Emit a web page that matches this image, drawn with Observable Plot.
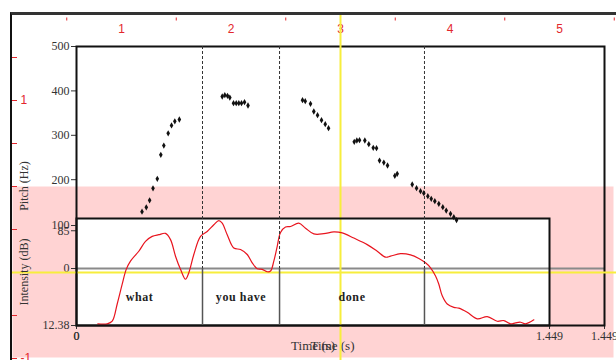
<!DOCTYPE html>
<html><head><meta charset="utf-8">
<script src="https://cdn.jsdelivr.net/npm/d3@7"></script>
<script src="https://cdn.jsdelivr.net/npm/@observablehq/plot@0.6"></script>
<style>
html,body{margin:0;padding:0;background:#fff;}
#chart{position:relative;width:616px;height:360px;overflow:hidden;background:#fff;}
#chart svg{position:absolute;left:0;top:0;background:transparent !important;overflow:visible;}
#border{position:absolute;left:10px;top:12px;width:606px;height:348px;border-top:3px solid #333;border-left:2px solid #111;box-sizing:border-box;}
</style></head><body><div id="chart"></div>
<script>
// ---------- data ----------
const pitchT = [0.2007,0.2138,0.2240,0.2344,0.2475,0.2583,0.2675,0.2809,0.2911,0.3012,0.3150,
  0.4464,0.4544,0.4626,0.4697,0.4810,0.4893,0.4972,0.5055,0.5147,0.5254,
  0.6924,0.7007,0.7169,0.7270,0.7384,0.7506,0.7620,0.7721,0.8508,0.8588,0.8670,0.8833,0.8955,0.9090,0.9191,
  0.9283,0.9415,0.9528,0.9752,0.9825,1.0285,1.0417,1.0539,1.0640,1.0763,1.0867,1.0977,1.1100,1.1222,1.1327,1.1458,1.1559,1.1642];
const pitchF = [127.9,137.8,153.6,180.6,202.0,256.1,277.0,304.5,322.1,331.5,335.6,
  387.4,390.3,389.0,385.1,372.3,372.3,372.3,372.3,374.5,367.1,
  379.1,376.8,370.9,353.6,345.3,334.0,325.0,316.0,285.4,288.3,289.0,288.3,280.0,271.8,270.9,
  243.2,238.7,232.0,208.8,213.3,189.2,180.9,174.1,169.6,162.8,157.0,151.6,145.7,138.1,130.6,123.2,115.5,109.2];
const intT = [0.0653,0.0941,0.1094,0.1247,0.1400,0.1523,0.1654,0.1909,0.2114,0.2319,0.2521,0.2727,0.2880,0.3033,0.3186,0.3339,0.3441,0.3594,0.3799,0.4004,0.4207,0.4360,0.4464,0.4617,0.4819,0.5025,0.5230,0.5383,0.5536,0.5689,0.5843,0.5944,0.6045,0.6149,0.6250,0.6403,0.6556,0.6811,0.7016,0.7270,0.7577,0.7883,0.8140,0.8496,0.8906,0.9213,0.9467,0.9620,0.9926,1.0233,1.0487,1.0692,1.0846,1.0999,1.1100,1.1204,1.1357,1.1560,1.1713,1.1970,1.2276,1.2583,1.2889,1.3091,1.3297,1.3450,1.3603,1.3756,1.4010];
const intDb = [13.85,13.85,16.11,31.21,48.56,61.57,68.77,77.44,86.12,90.46,91.93,93.06,87.60,73.11,61.57,52.89,58.62,74.58,90.46,94.80,100.61,104.34,102.00,91.93,80.31,78.92,74.58,67.30,62.09,61.57,59.49,60.09,68.77,81.78,93.93,98.70,99.13,102.00,97.66,92.63,92.80,94.36,93.49,88.98,83.26,77.44,72.24,73.11,75.28,74.23,71.11,67.30,62.96,55.76,48.56,38.41,31.21,28.26,27.56,23.92,18.19,20.19,16.11,16.72,13.85,14.72,15.24,13.85,17.32];
const boundaries = [0.386, 0.622, 1.066];
const intervalStart = [0, 0.386, 0.622];
const intervalEnd = [0.386, 0.622, 1.066];
const intervalLabels = ["what", "you have", "done"];
const timeDomain = [0, 1.449];
const timeTicks = [0, 1.449];
const pitchDomain = [0, 500];
const pitchTicks = [0, 85, 200, 300, 400, 500];
const intensityDomain = [12.38, 100];
const intensityTicks = [12.38, 100];
const redTopTicks = [0.5, 1.5, 2.5, 3.5, 4.5, 5.5];
const redTopLabels = [1, 2, 3, 4, 5];
const redLeftTicks = [4/3, 1, 2/3, 1/3, 0, -1/3, -2/3, -1];
const redLeftLabels = [1, -1];
const cursorTime = 3;
const cursorValue = -1/3;

// ---------- layout ----------
const RED = "#e3262c";
const INK = "#333";
const chart = document.getElementById("chart");
const baseStyle = {background: "transparent", fontFamily: "'Liberation Serif', serif", fontSize: "12px", color: INK, overflow: "visible"};
function layer(opts) {
  const svg = Plot.plot(Object.assign({width: 616, height: 360, style: baseStyle}, opts));
  chart.appendChild(svg);
  return svg;
}
const pitchData = pitchT.map((t, i) => ({t, f: pitchF[i]}));
const intData = intT.map((t, i) => ({t, db: intDb[i]}));
const redX = {domain: [0, 5], range: [11.5, 559]};
const redY = {domain: [1, -1], range: [100, 358]};
const pitchRange = [268, 46];

// pink selection band
layer({marginTop: 186, marginLeft: 12, marginRight: 3, marginBottom: 3,
  marks: [Plot.frame({fill: "#ffd3d3", stroke: "none"})]});

// red editor axes
layer({marginTop: 19.5, marginLeft: 17, marginRight: 0, marginBottom: 0,
  style: Object.assign({}, baseStyle, {color: RED, fontFamily: "'Liberation Sans', sans-serif"}),
  x: Object.assign({}, redX, {axis: "top", ticks: redTopTicks, tickSize: 3, tickFormat: () => "", label: null}),
  y: Object.assign({}, redY, {axis: "left", ticks: redLeftTicks, tickSize: 5, tickFormat: () => "", label: null}),
  marks: [
    Plot.text(redTopLabels, {x: d => d, text: d => String(d), frameAnchor: "top", dy: 4, fill: RED, fontSize: 12}),
    Plot.text(redLeftLabels, {y: d => d, text: d => String(d), frameAnchor: "left", dx: 3, textAnchor: "start", fill: RED, fontSize: 12})
  ]});

// intensity box background
layer({marginTop: 218, marginLeft: 76, marginRight: 67, marginBottom: 35,
  marks: [Plot.frame({fill: "white", stroke: "none"})]});

// outer pitch frame
layer({marginTop: 46, marginLeft: 76, marginRight: 12, marginBottom: 35,
  x: {domain: timeDomain, ticks: timeTicks, tickSize: 4, tickPadding: 2, tickFormat: d => String(d), label: null},
  y: {domain: pitchDomain, range: pitchRange, ticks: pitchTicks, tickSize: 5, tickPadding: 2, tickFormat: d => String(d), label: null},
  marks: [
    Plot.ruleY([0], {x1: timeDomain[0], x2: timeDomain[1], stroke: "#8a8a8a", strokeWidth: 2}),
    Plot.frame({stroke: "#111", strokeWidth: 2}),
    Plot.text(["Time (s)"], {text: d => d, frameAnchor: "bottom", dy: 24, dx: -8, fontSize: 13}),
    Plot.text(["Pitch (Hz)"], {text: d => d, frameAnchor: "left", dx: -52, rotate: -90, textAnchor: "middle", fontSize: 12})
  ]});

// yellow cursor
layer({marginTop: 15, marginLeft: 11, marginRight: 0, marginBottom: 0,
  x: Object.assign({}, redX, {axis: null}),
  y: Object.assign({}, redY, {axis: null}),
  marks: [
    Plot.ruleX([cursorTime], {stroke: "#f7ee3c", strokeWidth: 2}),
    Plot.ruleY([cursorValue], {stroke: "#f7ee3c", strokeWidth: 2})
  ]});

// intensity curve
layer({marginTop: 218, marginLeft: 76, marginRight: 67, marginBottom: 35,
  x: {domain: timeDomain, ticks: timeTicks, tickSize: 4, tickPadding: 2, tickFormat: d => String(d), label: null},
  y: {domain: intensityDomain, range: [325, 225], ticks: intensityTicks, tickSize: 5, tickPadding: 2, tickFormat: d => String(d), label: null},
  marks: [
    Plot.line(intData, {x: "t", y: "db", stroke: "#e8141e", strokeWidth: 1.2, curve: "catmull-rom"}),
    Plot.frame({stroke: "#111", strokeWidth: 2}),
    Plot.text(["Time (s)"], {text: d => d, frameAnchor: "bottom", dy: 24, fontSize: 13}),
    Plot.text(["Intensity (dB)"], {text: d => d, frameAnchor: "left", dx: -52, rotate: -90, textAnchor: "middle", fontSize: 12})
  ]});

// textgrid tier
layer({marginTop: 268, marginLeft: 76, marginRight: 67, marginBottom: 35,
  style: Object.assign({}, baseStyle, {letterSpacing: "0.6px"}),
  x: {domain: timeDomain, axis: null},
  marks: [
    Plot.ruleX(boundaries, {stroke: "#555", strokeWidth: 1.5}),
    Plot.text(intervalLabels, {x: (d, i) => (intervalStart[i] + intervalEnd[i]) / 2, text: d => d,
      frameAnchor: "middle", fontWeight: "bold", fontSize: 12, fill: "#222"})
  ]});

// pitch points and boundary extensions
layer({marginTop: 46, marginLeft: 76, marginRight: 67, marginBottom: 92,
  x: {domain: timeDomain, axis: null},
  y: {domain: pitchDomain, range: pitchRange, axis: null},
  marks: [
    Plot.ruleX(boundaries, {stroke: "#333", strokeWidth: 1, strokeDasharray: "3,2"}),
    Plot.dot(pitchData, {x: "t", y: "f", r: 1.9, symbol: "diamond", fill: "#111", stroke: "none"})
  ]});

const border = document.createElement("div");
border.id = "border";
chart.appendChild(border);
</script>
</body></html>
